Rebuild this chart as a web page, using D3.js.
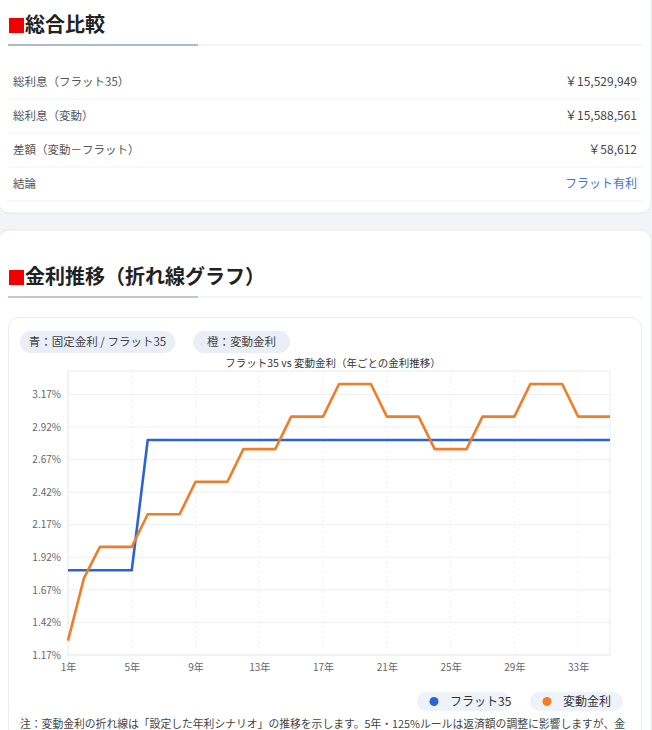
<!DOCTYPE html>
<html><head><meta charset="utf-8">
<script src="https://cdn.jsdelivr.net/npm/d3@7"></script>
<style>
html,body{margin:0;padding:0;background:#f2f4f7;overflow:hidden;}
svg{display:block;font-family:"Noto Sans CJK JP","Noto Sans",sans-serif;}
</style></head>
<body>
<svg id="c" width="652" height="730"></svg>
<script>
const summaryLabels = ["総利息（フラット35）","総利息（変動）","差額（変動－フラット）","結論"];
const summaryValues = ["￥15,529,949","￥15,588,561","￥58,612","フラット有利"];
const years = d3.range(1, 36);
const flatRates = [1.82,1.82,1.82,1.82,1.82,2.82,2.82,2.82,2.82,2.82,2.82,2.82,2.82,2.82,2.82,2.82,2.82,2.82,2.82,2.82,2.82,2.82,2.82,2.82,2.82,2.82,2.82,2.82,2.82,2.82,2.82,2.82,2.82,2.82,2.82];
const variableRates = [1.28,1.76,2.0,2.0,2.0,2.25,2.25,2.25,2.5,2.5,2.5,2.75,2.75,2.75,3.0,3.0,3.0,3.25,3.25,3.25,3.0,3.0,3.0,2.75,2.75,2.75,3.0,3.0,3.0,3.25,3.25,3.25,3.0,3.0,3.0];
const yTickValues = [1.17,1.42,1.67,1.92,2.17,2.42,2.67,2.92,3.17];
const xTickValues = [1,5,9,13,17,21,25,29,33];
const seriesNames = ["フラット35","変動金利"];
const colors = ["#2d62d6","#ef7d29"];

const svg = d3.select("#c");
// cards
svg.append("rect").attr("x",-1).attr("y",-20).attr("width",652).attr("height",233).attr("rx",10)
  .attr("fill","#fff").attr("stroke","#e5e8ed");
svg.append("rect").attr("x",-1).attr("y",230).attr("width",652).attr("height",540).attr("rx",10)
  .attr("fill","#fff").attr("stroke","#e5e8ed");

function sectionTitle(y, text){
  svg.append("rect").attr("x",9).attr("y",y-14).attr("width",15).attr("height",15).attr("fill","#ee0000");
  svg.append("text").attr("x",25).attr("y",y).attr("font-size",20).attr("font-weight",700)
    .attr("fill","#222").text(text);
}
sectionTitle(32,"総合比較");
svg.append("line").attr("x1",8).attr("x2",642).attr("y1",45).attr("y2",45).attr("stroke","#e8ebef").attr("stroke-width",1);
svg.append("line").attr("x1",8).attr("x2",198).attr("y1",45).attr("y2",45).attr("stroke","#95a6c0").attr("stroke-width",1.5);

summaryLabels.forEach((lab,i)=>{
  const cy = 82 + i*34;
  svg.append("text").attr("x",13).attr("y",cy+4).attr("font-size",11.5).attr("fill","#555").text(lab);
  svg.append("text").attr("x",637).attr("y",cy+4).attr("font-size",12).attr("text-anchor","end")
    .attr("fill", i===3 ? "#3a78d8" : "#444").text(summaryValues[i]);
  svg.append("line").attr("x1",8).attr("x2",642).attr("y1",cy+17).attr("y2",cy+17).attr("stroke","#f0f2f5");
});

sectionTitle(284,"金利推移（折れ線グラフ）");
svg.append("line").attr("x1",8).attr("x2",642).attr("y1",297).attr("y2",297).attr("stroke","#e8ebef");
svg.append("line").attr("x1",8).attr("x2",198).attr("y1",297).attr("y2",297).attr("stroke","#a8bacb").attr("stroke-width",1.5);

// inner box
svg.append("rect").attr("x",8.5).attr("y",317.5).attr("width",633).attr("height",450).attr("rx",10)
  .attr("fill","#fff").attr("stroke","#e9ecf0");

// pills
function pill(x,y,w,h,text){
  svg.append("rect").attr("x",x).attr("y",y).attr("width",w).attr("height",h).attr("rx",h/2).attr("fill","#e9eef7");
  svg.append("text").attr("x",x+w/2).attr("y",y+h/2+4).attr("text-anchor","middle").attr("font-size",11.5).attr("fill","#444").text(text);
}
pill(20,331,155,22,"青：固定金利 / フラット35");
pill(193,331,97,22,"橙：変動金利");

svg.append("text").attr("x",333).attr("y",367).attr("text-anchor","middle").attr("font-size",10.5).attr("fill","#333")
  .text("フラット35 vs 変動金利（年ごとの金利推移）");

// chart
const x = d3.scaleLinear().domain([1,35]).range([68,610]);
const y = d3.scaleLinear().domain([1.17,3.35]).range([655,371]);
const g = svg.append("g");
g.selectAll(".hg").data(yTickValues).join("line")
  .attr("x1",68).attr("x2",610).attr("y1",d=>y(d)).attr("y2",d=>y(d)).attr("stroke","#eef0f3");
g.selectAll(".vg").data(xTickValues).join("line")
  .attr("x1",d=>x(d)).attr("x2",d=>x(d)).attr("y1",371).attr("y2",655).attr("stroke","#eceef2").attr("stroke-dasharray","2,3");
g.append("rect").attr("x",68).attr("y",371).attr("width",542).attr("height",284).attr("fill","none").attr("stroke","#e8ebef");

const yAxis = d3.axisLeft(y).tickValues(yTickValues).tickFormat(d=>d.toFixed(2)+"%").tickSize(0).tickPadding(7);
const ya = g.append("g").attr("transform","translate(68,0)").call(yAxis);
const xAxis = d3.axisBottom(x).tickValues(xTickValues).tickFormat(d=>d+"年").tickSize(0).tickPadding(9);
const xa = g.append("g").attr("transform","translate(0,655)").call(xAxis);
[ya,xa].forEach(a=>{a.select(".domain").remove(); a.selectAll("text").attr("font-size",10).attr("fill","#666").attr("font-family","Noto Sans CJK JP");});

const line = d3.line().x((d,i)=>x(years[i])).y(d=>y(d));
[flatRates, variableRates].forEach((s,k)=>{
  g.append("path").attr("d",line(s)).attr("fill","none").attr("stroke",colors[k]).attr("stroke-width",2.6)
    .attr("stroke-linejoin","round");
});

// legend
const legendX = [417,530], legendW = [93,93];
seriesNames.forEach((n,k)=>{
  svg.append("rect").attr("x",legendX[k]).attr("y",692).attr("width",legendW[k]).attr("height",19).attr("rx",9.5).attr("fill","#eef2f9");
  svg.append("circle").attr("cx",legendX[k]+17).attr("cy",701.5).attr("r",4.5).attr("fill",colors[k]);
  svg.append("text").attr("x",legendX[k]+33).attr("y",706).attr("font-size",12).attr("fill","#333").text(n);
});

svg.append("text").attr("x",20).attr("y",728).attr("font-size",11).attr("fill","#444")
  .attr("textLength",605).attr("lengthAdjust","spacingAndGlyphs")
  .text("注：変動金利の折れ線は「設定した年利シナリオ」の推移を示します。5年・125%ルールは返済額の調整に影響しますが、金");
</script>
</body></html>
